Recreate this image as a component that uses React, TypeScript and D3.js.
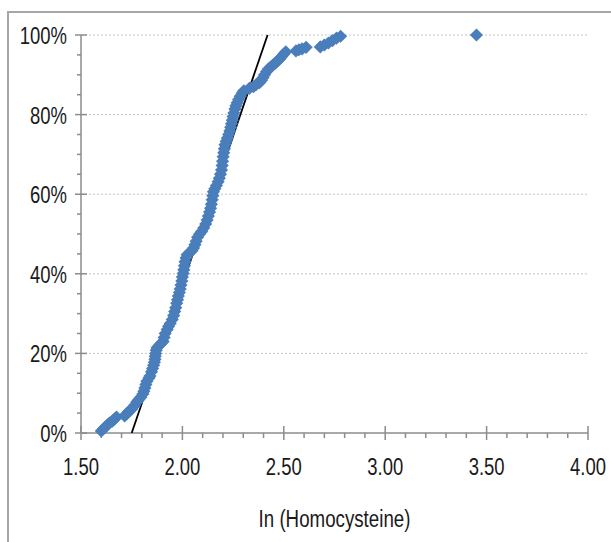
import React from 'react';
import * as d3 from 'd3';

// ln(Homocysteine) values and their cumulative percent
const lnHcy = [
  1.6, 1.61, 1.62, 1.63, 1.64, 1.655, 1.665, 1.675,
  1.715, 1.725, 1.735, 1.75, 1.765, 1.775, 1.785, 1.795, 1.805, 1.81, 1.815, 1.82,
  1.825, 1.835, 1.84, 1.848, 1.853, 1.858, 1.862, 1.865, 1.866, 1.868, 1.871, 1.875,
  1.885, 1.895, 1.905, 1.91, 1.915, 1.925, 1.932, 1.94, 1.95, 1.957, 1.962, 1.967,
  1.972, 1.976, 1.98, 1.985, 1.989, 1.993, 1.997, 2.0, 2.004, 2.007, 2.01, 2.013,
  2.018, 2.023, 2.035, 2.047, 2.055, 2.062, 2.068, 2.075, 2.085, 2.095, 2.105, 2.115,
  2.122, 2.128, 2.134, 2.139, 2.143, 2.147, 2.15, 2.153, 2.16, 2.168, 2.176, 2.182,
  2.188, 2.193, 2.196, 2.198, 2.201, 2.204, 2.207, 2.21, 2.216, 2.222, 2.228, 2.234,
  2.238, 2.242, 2.246, 2.25, 2.254, 2.259, 2.264, 2.27, 2.277, 2.285, 2.295, 2.303,
  2.33, 2.35, 2.365, 2.38, 2.39, 2.398, 2.405, 2.415, 2.425, 2.437, 2.448, 2.46,
  2.47, 2.48, 2.49, 2.5, 2.51, 2.56, 2.575, 2.59, 2.61, 2.68, 2.7, 2.72, 2.74, 2.76,
  2.78, 3.45,
];
const cumPct = [
  0.5, 1.0, 1.5, 2.0, 2.5, 3.0, 3.5, 4.0,
  4.3, 4.8, 5.4, 6.0, 7.0, 7.8, 8.4, 9.0, 9.8, 10.5, 11.3, 12.2,
  13.0, 13.8, 14.3, 15.4, 16.2, 17.0, 17.8, 18.5, 19.3, 20.0, 20.8, 21.4,
  22.0, 22.5, 23.0, 24.0, 25.0, 26.0, 26.8, 27.5, 28.5, 29.5, 30.5, 31.5,
  32.6, 33.5, 34.4, 35.3, 36.2, 37.2, 38.2, 39.2, 40.1, 41.0, 42.0, 43.0,
  44.0, 44.8, 45.3, 45.8, 46.5, 47.3, 48.2, 49.2, 50.0, 50.6, 51.5, 52.5,
  53.5, 54.5, 55.5, 56.5, 57.5, 58.6, 59.6, 60.6, 61.4, 62.2, 63.1, 64.0,
  65.0, 66.1, 67.2, 68.3, 69.4, 70.4, 71.4, 72.4, 73.3, 74.1, 75.0, 75.9,
  76.8, 77.7, 78.6, 79.5, 80.4, 81.4, 82.2, 83.0, 83.8, 84.6, 85.4, 86.0,
  86.6, 87.0, 87.6, 88.0, 88.6, 89.3, 90.0, 90.8, 91.5, 92.0, 92.5, 93.0,
  93.5, 94.0, 94.6, 95.2, 95.8, 96.0, 96.3, 96.5, 96.9, 97.0, 97.5, 98.0, 98.6, 99.2,
  99.7, 100,
];

// reference (normal) line endpoints
const fitX = [1.75, 2.42];
const fitPct = [0, 100];

const xTicks = [1.5, 2.0, 2.5, 3.0, 3.5, 4.0];
const yTicks = [0, 20, 40, 60, 80, 100];
const xTitle = 'In (Homocysteine)';

const W = 611, H = 542;
const font = '"Liberation Sans", Arial, sans-serif';
const axisGray = '#8c8c8c';
const blue = '#4a7ebb';
const ink = '#1a1a1a';

// condensed text: Arial Narrow look by squeezing horizontally
const Label = ({ x, y, anchor, size, sx, children }) => (
  <text transform={`translate(${x},${y}) scale(${sx},1)`} textAnchor={anchor}
    fontFamily={font} fontSize={size} fill={ink}>
    {children}
  </text>
);

export default function App() {
  const x = d3.scaleLinear().domain([1.5, 4.0]).range([81, 588]);
  const y = d3.scaleLinear().domain([0, 100]).range([433, 35]);

  const minorY = d3.range(0, 101, 5).filter(v => v % 20 !== 0);
  const minorX = d3.range(1.5, 4.0001, 0.1).filter(v => Math.abs(v * 2 - Math.round(v * 2)) > 0.01);

  const diamond = d3.symbol().type(d3.symbolDiamond2 || d3.symbolDiamond).size(110)();

  const line = d3.line<number>().x((_, i) => x(fitX[i])).y((d) => y(d));

  return (
    <svg width={W} height={H} style={{ position: 'absolute', left: 0, top: 0, display: 'block', background: '#fff' }}>
      {/* outer frame */}
      <rect x={8} y={12} width={640} height={600} fill="none" stroke="#a6a6a6" strokeWidth={2} />

      {/* gridlines */}
      {yTicks.filter(v => v > 0).map(v => (
        <line key={'g' + v} x1={x(1.5)} x2={x(4.0)} y1={y(v)} y2={y(v)}
          stroke="#c4c4c4" strokeWidth={1} strokeDasharray="2,2" />
      ))}

      {/* y axis */}
      <line x1={x(1.5)} x2={x(1.5)} y1={y(0)} y2={y(100)} stroke={axisGray} strokeWidth={1.5} />
      {yTicks.map(v => (
        <line key={'yt' + v} x1={x(1.5) - 6} x2={x(1.5) + 6} y1={y(v)} y2={y(v)} stroke={axisGray} strokeWidth={1.5} />
      ))}
      {minorY.map(v => (
        <line key={'ym' + v} x1={x(1.5) - 4} x2={x(1.5)} y1={y(v)} y2={y(v)} stroke={axisGray} strokeWidth={1.5} />
      ))}
      {yTicks.map(v => (
        <Label key={'yl' + v} x={67} y={y(v) + 9} anchor="end" size={24} sx={0.77}>
          {d3.format('.0%')(v / 100)}
        </Label>
      ))}

      {/* x axis */}
      <line x1={x(1.5)} x2={x(4.0)} y1={y(0)} y2={y(0)} stroke={axisGray} strokeWidth={1.5} />
      {xTicks.map(v => (
        <line key={'xt' + v} x1={x(v)} x2={x(v)} y1={y(0) - 7} y2={y(0) + 7} stroke={axisGray} strokeWidth={1.5} />
      ))}
      {minorX.map(v => (
        <line key={'xm' + v} x1={x(v)} x2={x(v)} y1={y(0)} y2={y(0) + 5} stroke={axisGray} strokeWidth={1.5} />
      ))}
      {xTicks.map(v => (
        <Label key={'xl' + v} x={x(v)} y={475} anchor="middle" size={24} sx={0.77}>
          {d3.format('.2f')(v)}
        </Label>
      ))}
      <Label x={(x(1.5) + x(4.0)) / 2} y={527} anchor="middle" size={24} sx={0.78}>
        {xTitle}
      </Label>

      {/* fitted line, drawn under the markers */}
      <path d={line(fitPct) || ''} fill="none" stroke="#000" strokeWidth={1.8} />

      {/* data */}
      {lnHcy.map((v, i) => (
        <path key={'p' + i} d={diamond || ''} transform={`translate(${x(v)},${y(cumPct[i])})`} fill={blue} />
      ))}
    </svg>
  );
}
